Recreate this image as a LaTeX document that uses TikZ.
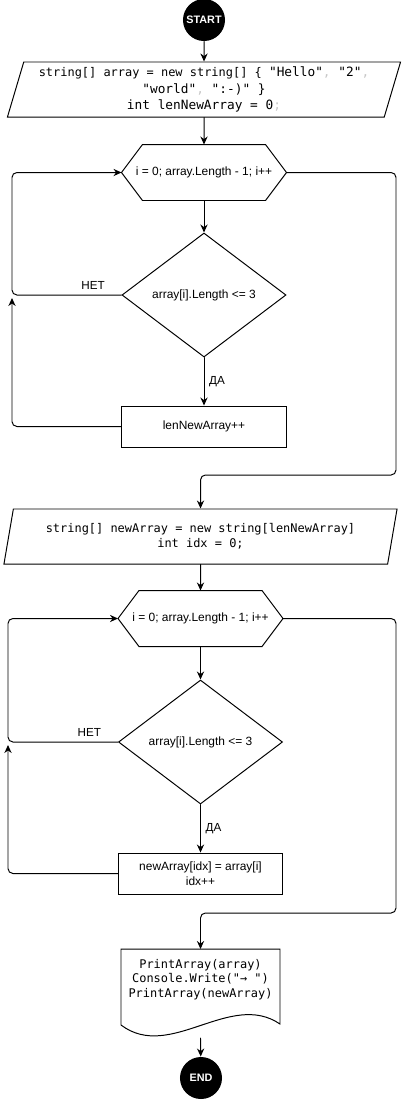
\documentclass[tikz,border=0pt]{standalone}
\usepackage{fontspec}
\setmainfont{Liberation Sans}
\setmonofont{DejaVu Sans Mono}
\usetikzlibrary{arrows.meta,shapes.geometric}
\definecolor{punct}{gray}{0.78}

\begin{document}
\begin{tikzpicture}[x=0.025cm,y=-0.025cm,>={Stealth[length=2mm,width=1.8mm]},line width=0.7pt,line cap=round,
  font=\fontsize{8.5}{10}\selectfont,
  term/.style={circle,fill=black,text=white,minimum size=1.05cm,inner sep=0pt,font=\fontsize{7.7}{9}\selectfont\bfseries},
  io/.style={trapezium,trapezium left angle=70,trapezium right angle=110,trapezium stretches body=true,draw,
    minimum width=9.825cm,minimum height=1.375cm,inner sep=0pt,align=center,font=\ttfamily\fontsize{8.5}{10.7}\selectfont},
  loopbox/.style={minimum width=4.1cm,minimum height=1.375cm,inner sep=0pt},
  cond/.style={diamond,draw,minimum width=4.1cm,minimum height=3.1cm,inner sep=0pt},
  proc/.style={rectangle,draw,minimum width=4.1cm,minimum height=1.025cm,align=center,font=\fontsize{8.5}{10.5}\selectfont},
  doctext/.style={align=center,font=\ttfamily\fontsize{8.5}{10.3}\selectfont},
  lbl/.style={font=\fontsize{8.3}{10}\selectfont},
  rc/.style={rounded corners=3.5pt}]
\useasboundingbox (0,0) rectangle (405,1101);
\node[term] (start) at (204,20) {START};
\node[io,font=\ttfamily\fontsize{9.1}{11.5}\selectfont] (in1) at (204,89.5) {{\fontsize{8.5}{11.5}\selectfont string[] array = new string[] \{ }"Hello"{\color{punct},} "2"{\color{punct},}\\"world"{\color{punct},} ":-)" \}\\int lenNewArray = 0{\color{punct};}};
\node[loopbox] (hex1) at (204,172.5) {i = 0; array.Length - 1; i++};
\node[cond] (dec1) at (204,295) {array[i].Length <= 3};
\node[proc] (box1) at (204,426.5) {lenNewArray++};
\node[io] (in2) at (200.5,536.5) {string[] newArray = new string[lenNewArray]\\int idx = 0;};
\node[loopbox] (hex2) at (200.5,618.5) {i = 0; array.Length - 1; i++};
\node[cond] (dec2) at (200.5,742) {array[i].Length <= 3};
\node[proc] (box2) at (200.5,873.5) {newArray[idx] = array[i]\\idx++};
\node[doctext] (doc) at (200.5,979.5) {PrintArray(array)\\Console.Write("→ ")\\PrintArray(newArray)};
\node[term] (stop) at (201,1078) {END};
\coordinate (back1) at (12,172.5);
\coordinate (up1) at (12,298);
\coordinate (turn1) at (396,475);
\coordinate (back2) at (8,618.5);
\coordinate (up2) at (8,745);
\coordinate (turn2) at (396,913);
\coordinate (doctop) at (200.5,949);
\coordinate (docbot) at (200.5,1038);
\foreach \h in {hex1,hex2}
  \draw (\h.west) -- ([xshift=5.25mm]\h.north west) -- ([xshift=-5.25mm]\h.north east) -- (\h.east)
    -- ([xshift=-5.25mm]\h.south east) -- ([xshift=5.25mm]\h.south west) -- cycle;
\draw (121,1025) -- (121,949) -- (280,949) -- (280,1024) .. controls (230,990) and (170,1062) .. (121,1025) -- cycle;
\draw[->] (start) -- (in1);
\draw[->] (in1) -- (hex1);
\draw[->] (hex1) -- (dec1);
\draw[->] (dec1) -- node[lbl,right] {ДА} (box1);
\draw[->,rc] (dec1.west) -- node[lbl,above,pos=0.26] {НЕТ} (dec1.west -| back1) -- (back1) -- (hex1.west);
\draw[->,rc] (box1.west) -| (up1);
\draw[->,rc] (hex1.east) -| (turn1) -| (in2.north);
\draw[->] (in2) -- (hex2);
\draw[->] (hex2) -- (dec2);
\draw[->] (dec2) -- node[lbl,right] {ДА} (box2);
\draw[->,rc] (dec2.west) -- node[lbl,above,pos=0.26] {НЕТ} (dec2.west -| back2) -- (back2) -- (hex2.west);
\draw[->,rc] (box2.west) -| (up2);
\draw[->,rc] (hex2.east) -| (turn2) -| (doctop);
\draw[->] (docbot) -- (stop);
\end{tikzpicture}
\end{document}
